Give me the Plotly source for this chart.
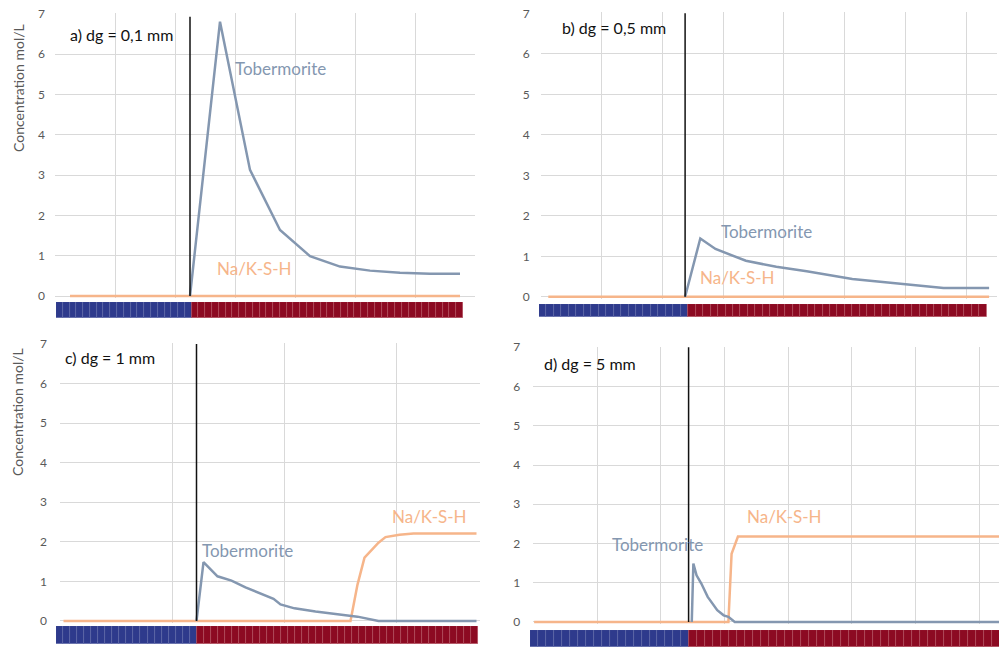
import plotly.graph_objects as go

W, H = 999, 648

# ---------------- data ----------------
# panel a) dg = 0,1 mm  (14 cells)
a_ncat = 14
a_tob_x = [4, 5, 6, 7, 8, 9, 10, 11, 12, 13]
a_tob_y = [0, 6.81, 3.13, 1.64, 0.99, 0.73, 0.63, 0.58, 0.55, 0.55]
a_nksh_x = [0, 1, 2, 3, 4, 5, 6, 7, 8, 9, 10, 11, 12, 13]
a_nksh_y = [0, 0, 0, 0, 0, 0, 0, 0, 0, 0, 0, 0, 0, 0]
a_interface = 4

# panel b) dg = 0,5 mm  (30 cells)
b_ncat = 30
b_tob_x = [9, 10, 11, 12, 13, 15, 17, 20, 22, 24, 26, 29]
b_tob_y = [0, 1.44, 1.18, 1.03, 0.89, 0.74, 0.63, 0.44, 0.37, 0.30, 0.22, 0.22]
b_nksh_x = [0, 29]
b_nksh_y = [0, 0]
b_interface = 9

# panel c) dg = 1 mm  (60 cells)
c_ncat = 60
c_tob_x = [19, 20, 22, 24, 26, 28, 30, 31, 33, 36, 38, 40, 42, 44, 45, 59]
c_tob_y = [0, 1.49, 1.13, 1.02, 0.85, 0.70, 0.56, 0.42, 0.32, 0.24, 0.19, 0.15, 0.11, 0.03, 0, 0]
c_nksh_x = [0, 41, 42, 43, 45, 46, 48, 50, 59]
c_nksh_y = [0, 0, 0.92, 1.60, 1.98, 2.12, 2.18, 2.21, 2.21]
c_interface = 19

# panel d) dg = 5 mm
d_ncat = 292.4
d_tob_x = [99, 100, 102, 105, 109, 115, 119, 122, 126, 300]
d_tob_y = [0, 1.49, 1.19, 0.98, 0.64, 0.30, 0.17, 0.13, 0, 0]
d_nksh_x = [0, 122, 124, 128, 300]
d_nksh_y = [0, 0, 1.74, 2.18, 2.18]
d_interface = 97

y_ticks = [0, 1, 2, 3, 4, 5, 6, 7]
panel_titles = ["a) dg = 0,1 mm", "b) dg = 0,5 mm", "c) dg = 1 mm", "d) dg = 5 mm"]
y_title = "Concentration mol/L"

# strip of cells under each panel: blue (cement paste) / red (aggregate)
strip_blue = [20, 20, 20, 20]
strip_red = [40, 40, 40, 40]

# ---------------- style ----------------
FONT = "Lato"
TOB_COL = "#8497b0"
NKSH_COL = "#f6b58a"
GRID = "#d9d9d9"
TICK_COL = "#595959"
BLUE_CELL, BLUE_EDGE = "#2e3a8c", "#5d67a6"
RED_CELL, RED_EDGE = "#8c0a22", "#b04c5c"

def px_x(p):
    return p / W

def px_y(p):
    return (H - p) / H

# panel geometry (pixels): plot left/right, y of value 7 and value 0, grid dtick
panels = [
    dict(ncat=a_ncat, left=55, right=475, top=14, zero=296, dtick=2,
         tob=(a_tob_x, a_tob_y), nk=(a_nksh_x, a_nksh_y), itf=a_interface, itf_top=6.93,
         strip=(56, 463, 302, 318), title_xy=(-0.08, 6.5), tob_lab=(5.42, 5.65), nk_lab=(4.83, 0.69),
         standoff=9),
    dict(ncat=b_ncat, left=540.7, right=996.7, top=13.3, zero=296.8, dtick=4,
         tob=(b_tob_x, b_tob_y), nk=(b_nksh_x, b_nksh_y), itf=b_interface, itf_top=7,
         strip=(539, 986.7, 304, 317), title_xy=(0.77, 6.66), tob_lab=(11.23, 1.61), nk_lab=(9.87, 0.47),
         standoff=10),
    dict(ncat=c_ncat, left=60, right=480, top=344, zero=621, dtick=16,
         tob=(c_tob_x, c_tob_y), nk=(c_nksh_x, c_nksh_y), itf=c_interface, itf_top=7,
         strip=(56, 478.3, 626, 644), title_xy=(-0.11, 6.65), tob_lab=(19.5, 1.78), nk_lab=(46.6, 2.64),
         standoff=12),
    dict(ncat=d_ncat, left=533.3, right=999, top=347.3, zero=622, dtick=40,
         tob=(d_tob_x, d_tob_y), nk=(d_nksh_x, d_nksh_y), itf=d_interface, itf_top=7,
         strip=(530, 1008, 630, 647), title_xy=(4.77, 6.59), tob_lab=(47.7, 1.98), nk_lab=(132.4, 2.68),
         standoff=12),
]

fig = go.Figure()
annotations = []
layout = {}
YR = (-0.05, 7.02)

for i, p in enumerate(panels):
    k = i + 1
    xa = "x" if k == 1 else f"x{k}"
    ya = "y" if k == 1 else f"y{k}"
    ppu = (p["zero"] - p["top"]) / 7.0
    bottom_px = p["zero"] - YR[0] * ppu
    top_px = p["zero"] - YR[1] * ppu
    xr = [-0.5, p["ncat"] - 0.5]
    layout[f"xaxis{'' if k == 1 else k}"] = dict(
        domain=[px_x(p["left"]), min(1.0, px_x(p["right"]))], range=xr, anchor=ya,
        tick0=-0.5, dtick=p["dtick"], showticklabels=False, showgrid=True, gridcolor=GRID,
        gridwidth=1, zeroline=False, showline=False, ticks="", fixedrange=True, automargin=False)
    layout[f"yaxis{'' if k == 1 else k}"] = dict(
        domain=[px_y(bottom_px), px_y(top_px)], range=list(YR), anchor=xa,
        tickvals=y_ticks, showgrid=True, gridcolor=GRID, gridwidth=1, zeroline=False,
        showline=False, ticks="", tickfont=dict(family=FONT, size=12, color=TICK_COL),
        ticklabelstandoff=p["standoff"], fixedrange=True, automargin=False)

    # Na/K-S-H
    fig.add_trace(go.Scatter(x=p["nk"][0], y=p["nk"][1], xaxis=xa, yaxis=ya, mode="lines",
                             line=dict(color=NKSH_COL, width=2.5), hoverinfo="skip", showlegend=False))
    # Tobermorite
    fig.add_trace(go.Scatter(x=p["tob"][0], y=p["tob"][1], xaxis=xa, yaxis=ya, mode="lines",
                             line=dict(color=TOB_COL, width=2.5), hoverinfo="skip", showlegend=False))
    # interface line
    fig.add_trace(go.Scatter(x=[p["itf"], p["itf"]], y=[0, p["itf_top"]], xaxis=xa, yaxis=ya,
                             mode="lines", line=dict(color="#111111", width=1.5),
                             hoverinfo="skip", showlegend=False))

    annotations.append(dict(x=p["title_xy"][0], y=p["title_xy"][1], xref=xa, yref=ya,
                            text=panel_titles[i], showarrow=False, xanchor="left", yanchor="middle",
                            font=dict(family=FONT, size=16, color="#111111")))
    annotations.append(dict(x=p["tob_lab"][0], y=p["tob_lab"][1], xref=xa, yref=ya,
                            text="Tobermorite", showarrow=False, xanchor="left", yanchor="middle",
                            font=dict(family=FONT, size=17, color=TOB_COL)))
    annotations.append(dict(x=p["nk_lab"][0], y=p["nk_lab"][1], xref=xa, yref=ya,
                            text="Na/K-S-H", showarrow=False, xanchor="left", yanchor="middle",
                            font=dict(family=FONT, size=17, color=NKSH_COL)))

    # cell strip
    sk = k + 4
    sx, sy = f"x{sk}", f"y{sk}"
    sl, sr, st, sb = p["strip"]
    ncell = strip_blue[i] + strip_red[i]
    cell_w = (sr - sl) / ncell
    vis_right = min(sr, W)
    layout[f"xaxis{sk}"] = dict(domain=[px_x(sl), px_x(vis_right)], range=[0, (vis_right - sl) / cell_w],
                                anchor=sy, visible=False, fixedrange=True, automargin=False)
    layout[f"yaxis{sk}"] = dict(domain=[px_y(sb), px_y(st)], range=[0, 1], anchor=sx,
                                visible=False, fixedrange=True, automargin=False)
    cols = [BLUE_CELL] * strip_blue[i] + [RED_CELL] * strip_red[i]
    edges = [BLUE_EDGE] * strip_blue[i] + [RED_EDGE] * strip_red[i]
    fig.add_trace(go.Bar(x=[j + 0.5 for j in range(ncell)], y=[1] * ncell, width=1,
                         xaxis=sx, yaxis=sy, marker=dict(color=cols, line=dict(color=edges, width=0.8)),
                         hoverinfo="skip", showlegend=False))

# y-axis titles (panels a and c)
for yc in (88, 412):
    annotations.append(dict(x=px_x(18), y=px_y(yc), xref="paper", yref="paper", text=y_title,
                            textangle=-90, showarrow=False, xanchor="center", yanchor="middle",
                            font=dict(family=FONT, size=14, color=TICK_COL)))

fig.update_layout(template="none", width=W, height=H, margin=dict(l=0, r=0, t=0, b=0, autoexpand=False),
                  paper_bgcolor="white", plot_bgcolor="white", bargap=0,
                  annotations=annotations, **layout)

fig.write_html("out.html", config={"displayModeBar": False},
               post_script="document.body.style.margin='0';document.body.style.overflow='hidden';")
